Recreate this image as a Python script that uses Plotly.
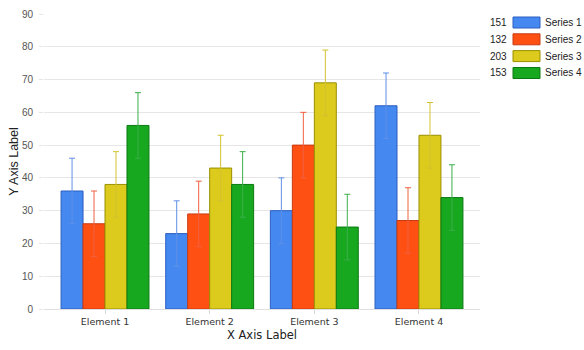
import plotly.graph_objects as go

categories = ["Element 1", "Element 2", "Element 3", "Element 4"]
series_names = ["Series 1", "Series 2", "Series 3", "Series 4"]
series1 = [36, 23, 30, 62]
series2 = [26, 29, 50, 27]
series3 = [38, 43, 69, 53]
series4 = [56, 38, 25, 34]
errors1 = [10, 10, 10, 10]
errors2 = [10, 10, 10, 10]
errors3 = [10, 10, 10, 10]
errors4 = [10, 10, 10, 10]

all_values = [series1, series2, series3, series4]
all_errors = [errors1, errors2, errors3, errors4]
fills = ["#4588F0", "#FF5014", "#DCCB1C", "#18A820"]
outlines = ["#2B5FC0", "#C83A10", "#9A9000", "#0C7A12"]
errcolors = ["#5F90E6", "#F06040", "#D2C230", "#3CAE4A"]

W, H = 584, 350
L, R, T, B = 44, 480, 14, 309

fig = go.Figure()
for name, vals, errs, fc, oc, ec in zip(series_names, all_values, all_errors, fills, outlines, errcolors):
    fig.add_trace(go.Bar(
        x=categories, y=vals, name=name,
        marker=dict(color=fc, line=dict(color=oc, width=1)),
        error_y=dict(type="data", array=errs, visible=True, color=ec, thickness=1, width=3),
        showlegend=False,
    ))

# custom legend (total of each series, swatch, name)
def px_x(p):
    return (p - L) / (R - L)

def px_y(p):
    return (B - p) / (B - T)

row_y = [22.5, 39.3, 56.1, 73]
for i, (name, vals) in enumerate(zip(series_names, all_values)):
    yc = row_y[i]
    fig.add_shape(type="rect", xref="paper", yref="paper",
                  x0=px_x(513), x1=px_x(540), y0=px_y(yc + 5.5), y1=px_y(yc - 5.5),
                  fillcolor=fills[i], line=dict(color=outlines[i], width=1))
    fig.add_annotation(xref="paper", yref="paper", x=px_x(509), y=px_y(yc),
                       text=str(sum(vals)), showarrow=False, xanchor="right", yanchor="middle",
                       font=dict(family="Liberation Sans, Arial", size=10, color="#222"))
    fig.add_annotation(xref="paper", yref="paper", x=px_x(543), y=px_y(yc),
                       text=name, showarrow=False, xanchor="left", yanchor="middle",
                       font=dict(family="Liberation Sans, Arial", size=10, color="#222"))

fig.update_layout(
    width=W, height=H,
    margin=dict(l=L, r=W - R, t=T, b=H - B, pad=0),
    paper_bgcolor="white", plot_bgcolor="white",
    barmode="group", bargap=0.16, bargroupgap=0,
    xaxis=dict(
        range=[-0.583, 3.583], automargin=False,
        showgrid=False, showline=True, linecolor="#e0e0e0", linewidth=1,
        ticks="outside", ticklen=4, tickcolor="#d8d8d8",
        tickfont=dict(family="DejaVu Sans", size=9.5, color="#333"),
        title=dict(text="X Axis Label", standoff=4,
                   font=dict(family="DejaVu Sans", size=11.5, color="#222")),
    ),
    yaxis=dict(
        range=[0, 90], dtick=10, automargin=False,
        showgrid=True, gridcolor="#e6e6e6", gridwidth=1, zeroline=False,
        ticks="outside", ticklen=4, tickcolor="#e6e6e6", ticklabelstandoff=4,
        tickfont=dict(family="Liberation Sans, Arial", size=10, color="#555"),
        title=dict(text="Y Axis Label", standoff=0,
                   font=dict(family="Liberation Sans, Arial", size=12.5, color="#222")),
    ),
)

fig.write_html("out.html")
